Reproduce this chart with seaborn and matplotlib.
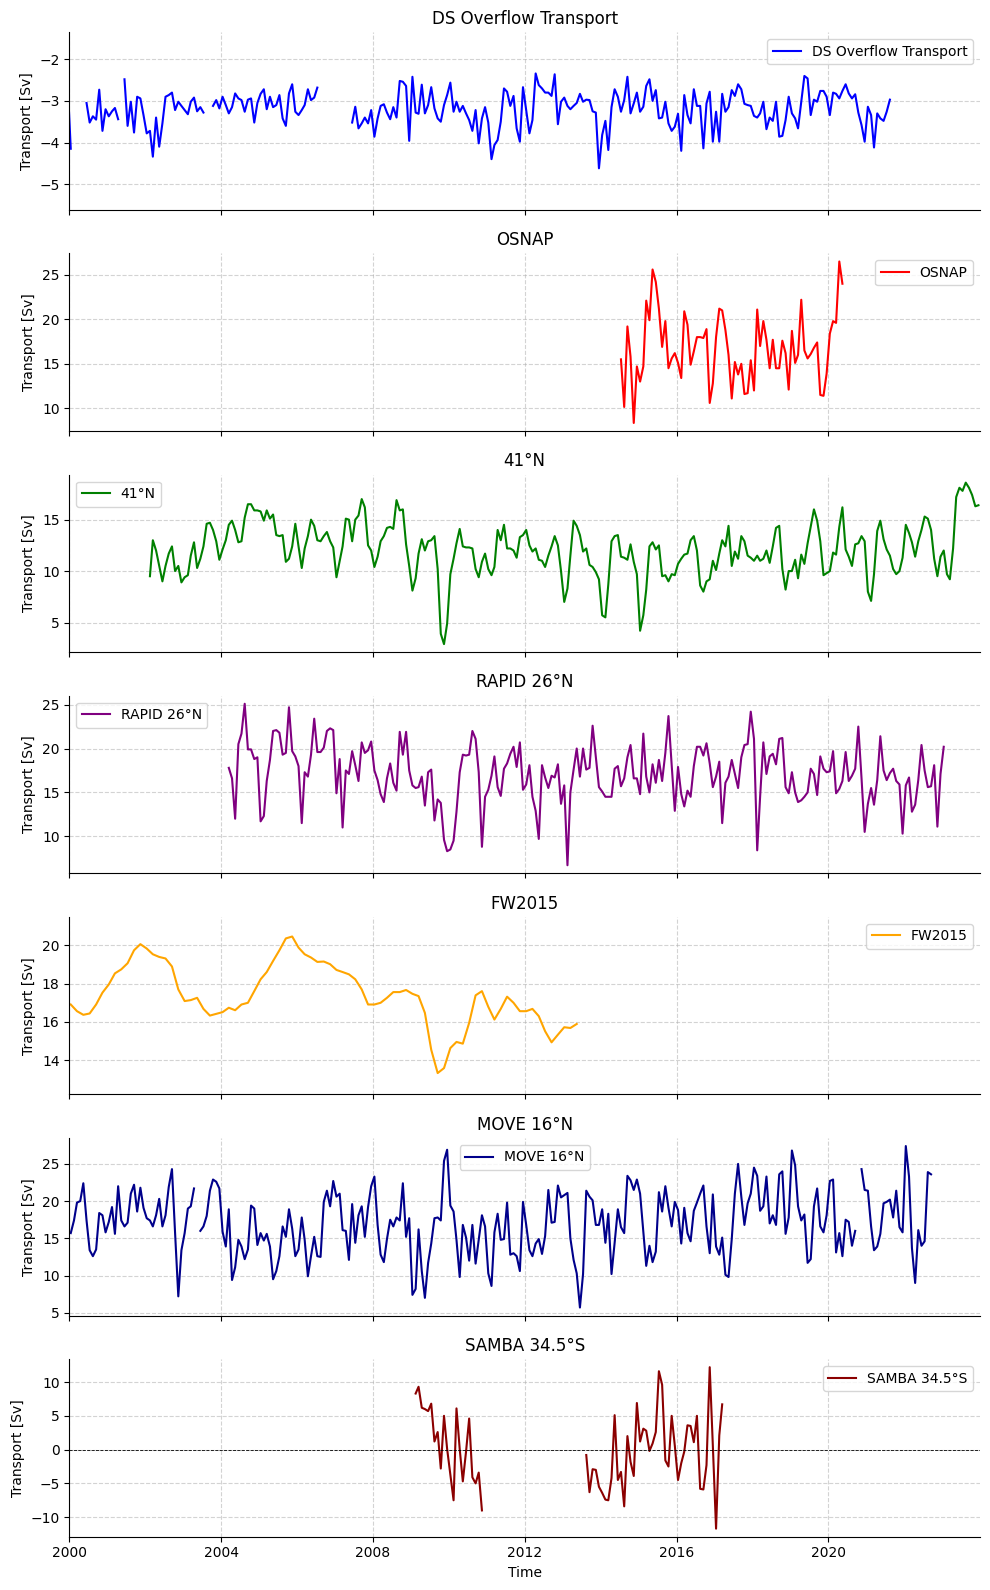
import pandas as pd
import matplotlib
matplotlib.use("Agg")
import matplotlib.pyplot as plt
import matplotlib.dates as mdates
import seaborn as sns

# each series is a list of continuous segments: (first month, monthly values)
ds_seg1 = [-2.5, -4.15]
ds_seg2 = [-3.05, -3.52, -3.37, -3.45, -2.73, -3.72, -3.2, -3.37, -3.25, -3.17, -3.44]
ds_seg3 = [-2.48, -3.6, -3.02, -3.76, -2.9, -2.94, -3.34, -3.78, -3.72, -4.34, -3.4, -4.1, -3.54,
           -2.9, -2.86, -2.8, -3.22, -3.02, -3.12, -3.22, -3.32, -3.02, -2.92, -3.25, -3.15, -3.28]
ds_seg4 = [-3.12, -2.98, -3.18, -2.9, -3.1, -3.3, -3.15, -2.82, -2.94, -2.98, -3.26, -2.97, -2.94,
           -3.52, -3.05, -2.83, -2.72, -3.2, -2.9, -3.15, -3.1, -2.86, -3.42, -3.6, -2.82, -2.6,
           -3.26, -3.34, -3.22, -3.1, -2.72, -2.98, -2.92, -2.68]
ds_seg5 = [-3.52, -3.14, -3.66, -3.54, -3.4, -3.54, -3.22, -3.86, -3.42, -3.12,
           -3.08, -3.28, -3.44, -3.15, -3.4, -2.52, -2.54, -2.64, -3.96, -2.42,
           -3.28, -3.31, -2.61, -3.3, -3.1, -2.67, -3.18, -3.42, -3.5, -3.1,
           -2.86, -2.56, -3.26, -3.02, -3.26, -3.12, -3.3, -3.46, -3.72, -3.22,
           -4.02, -3.42, -3.15, -3.52, -4.4, -4.06, -3.94,
           -3.5, -2.70, -2.78, -3.12, -2.88, -3.66, -3.98, -2.67, -3.22, -3.78,
           -3.46, -2.34, -2.62, -2.70, -2.8, -2.8, -2.88, -2.36, -3.56, -3.02,
           -2.92, -3.12, -3.2, -3.12, -3.05, -2.83, -3.02, -2.97, -2.98, -3.25,
           -3.28, -4.62, -3.82, -3.48, -4.18, -3.15, -2.72, -2.9, -3.26, -2.98,
           -2.42, -3.3, -3.06, -2.8, -3.26, -3.14, -2.64, -2.48, -3.0, -2.74,
           -3.42, -3.4, -3.02, -3.54, -3.72, -3.62, -3.31, -4.2, -2.86, -3.34,
           -3.54, -2.72, -3.12, -3.12, -4.14, -3.06, -2.78, -3.98, -3.26, -3.98,
           -2.83, -3.26, -3.15, -2.74, -2.88, -2.6, -2.72, -3.07, -3.1, -3.12,
           -3.36, -3.4, -3.3, -3.02, -3.68, -3.4, -3.48, -3.02, -3.86, -3.84,
           -3.46, -2.9, -3.3, -3.42, -3.66, -3.02, -2.4, -2.46, -3.34, -2.97,
           -3.02, -2.76, -2.76, -2.9, -3.34, -2.8, -2.83, -2.94, -2.76, -2.6,
           -2.82, -2.94, -2.84, -3.28, -3.58, -3.98, -3.14, -3.34, -4.12, -3.3,
           -3.42, -3.48, -3.26, -2.97]

osnap_vals = [15.5, 10.15, 19.2, 15.8, 8.35, 14.7, 13.0, 14.7, 22.1, 19.9,
              25.6, 24.2, 21.2, 16.9, 19.8, 14.5, 15.6, 16.2, 15.1, 13.4,
              20.9, 19.4, 14.9, 16.4, 18.0, 18.0, 17.9, 18.9, 10.6, 12.8,
              18.0, 21.2, 21.0, 18.8, 16.0, 11.1, 15.2, 13.8, 15.0, 11.6,
              11.7, 15.4, 12.0, 21.1, 17.0, 19.8, 17.7, 14.5, 17.7, 14.5,
              14.5, 17.6, 16.2, 12.1, 18.7, 15.1, 16.0, 22.2, 16.5, 15.6,
              16.1, 16.8, 17.4, 11.5, 11.4, 13.9, 18.4, 19.8, 19.6, 26.5, 24.0]

n41_vals = [9.5, 13.0, 12.0, 10.5, 9.0, 10.5, 11.7, 12.4, 10.0, 10.5,
            8.9, 9.4, 9.6, 11.5, 12.8, 10.3, 11.2, 12.4, 14.6, 14.7,
            14.0, 12.9, 11.1, 12.1, 13.0, 14.5, 14.9, 14.0, 12.8, 12.9,
            15.2, 16.5, 16.5, 15.9, 15.9, 15.8, 14.9, 15.9, 15.1, 15.5,
            13.5, 13.4, 13.5, 10.9, 11.2, 12.4, 14.6, 12.4, 10.3, 12.2,
            13.4, 15.0, 14.4, 13.0, 12.9, 13.4, 13.8, 12.9, 12.3, 9.4,
            11.0, 12.4, 15.1, 15.0, 12.9, 15.0, 15.4, 17.0, 16.2, 12.5,
            12.0, 10.4, 11.4, 12.9, 13.4, 14.2, 14.3, 14.1, 16.9, 15.9,
            16.0, 12.6, 10.5, 8.1, 9.3, 11.7, 13.1, 12.0, 12.9, 13.0,
            13.4, 10.2, 3.9, 2.9, 4.9, 9.7, 11.2, 12.7, 14.1, 12.4,
            12.3, 12.3, 12.2, 10.2, 9.4, 10.9, 11.7, 10.2, 9.6, 10.4,
            14.0,
            13.0, 14.5, 12.2, 12.2, 12.0, 11.3, 13.3, 13.5, 14.0, 12.5,
            11.9, 12.2, 11.1, 11.0, 10.4, 11.5, 12.4, 13.4, 12.5, 10.0,
            7.0, 8.3, 11.5, 14.9, 14.4, 13.5, 11.9, 12.2, 10.6, 10.4,
            9.9, 9.2, 5.7, 5.5, 8.7, 12.9, 13.4, 13.5, 11.4, 11.3,
            11.1, 12.6, 10.9, 9.7, 4.2, 5.7, 8.2, 12.4, 12.8, 12.1,
            12.5, 9.5, 9.6, 9.0, 9.7, 9.6, 10.7, 11.2, 11.6, 11.7,
            13.0, 13.4, 12.0, 8.6, 8.0, 9.0, 9.2, 11.0, 10.1, 11.7,
            13.0, 12.4, 14.4, 10.5, 11.9, 11.2, 13.4, 12.9, 11.5, 11.3,
            11.0, 11.5, 11.0, 11.2, 12.0, 10.8, 12.4, 14.2, 14.4, 10.2,
            8.2, 10.0, 10.0, 11.1, 9.3, 11.6, 10.7, 12.7, 14.3, 16.0,
            14.9, 12.9, 9.6, 9.8, 10.0, 11.8, 11.6, 14.3, 16.2, 12.1,
            11.4, 10.5, 12.6, 12.7, 13.4, 12.9, 8.0, 7.1, 9.7, 13.9,
            14.9, 13.1, 12.1, 11.5, 10.2, 9.7, 10.0, 11.3, 14.5, 13.7,
            12.8, 11.4, 12.9, 14.0, 15.3, 15.1, 14.0, 11.2, 9.5, 11.4,
            12.0, 9.7, 9.2, 12.2, 17.2, 18.1, 17.8, 18.6, 18.1, 17.4,
            16.3, 16.4]

rapid_vals = [17.8, 16.6, 12.0, 20.5, 21.7, 25.1, 19.9, 19.9, 18.8, 19.0,
              11.7, 12.3, 16.3, 18.7, 22.0, 22.1, 21.8, 19.3, 19.5, 24.7,
              19.7, 19.1, 18.0, 11.5, 17.3, 16.8, 19.3, 23.4, 19.6, 19.6,
              20.1, 22.0, 22.3, 22.1, 14.9, 18.8, 11.0, 17.5, 17.1, 19.7,
              18.1, 16.3, 20.7, 19.5, 19.8, 20.8, 17.5, 16.4, 14.8, 13.9,
              16.6, 18.3, 16.1, 15.2, 21.9, 19.3, 21.9, 17.5, 15.8, 15.5,
              15.6, 16.8, 13.5, 17.3, 17.6, 11.8, 14.2, 13.8, 9.6, 8.3,
              8.5, 9.5, 12.8, 17.3, 19.3, 19.2, 19.3, 22.0, 21.1, 17.3,
              8.8, 14.5, 15.3, 16.9, 19.1, 15.6, 14.6, 17.7, 18.3, 19.4,
              20.2, 17.9, 20.7, 15.3, 15.9, 18.1, 14.5, 12.9, 9.7, 18.1,
              16.7, 15.5, 16.9, 16.7, 18.2, 13.7, 15.8, 6.7, 15.0, 17.6,
              20.0, 16.8, 20.0, 17.6, 17.8, 22.6, 19.0, 15.6,
              15.1, 14.5, 14.5, 14.5, 17.7, 18.0, 15.7, 16.6, 19.0, 20.4,
              16.6, 16.6, 14.8, 21.7, 16.8, 15.0, 18.2, 16.1, 18.7, 16.3,
              19.5, 23.7, 18.1, 12.9, 17.9, 14.8, 13.4, 15.2, 14.5, 18.0,
              20.2, 20.2, 19.2, 20.6, 18.3, 15.6, 16.8, 18.5, 11.5, 16.1,
              16.8, 18.7, 17.1, 15.5, 19.0, 20.4, 20.5, 24.2, 21.1, 8.4,
              14.5, 20.7, 17.1, 19.1, 19.4, 18.2, 21.1, 21.2, 15.6, 14.9,
              17.3, 15.0, 13.9, 14.1, 14.5, 15.0, 17.7, 17.1, 14.7, 19.1,
              17.7, 17.3, 17.4, 19.7, 14.9, 15.4, 16.3, 19.6, 16.3, 16.9,
              17.7, 22.5, 16.6, 10.5, 13.7, 15.5, 13.6, 16.4, 21.4, 17.5,
              16.4, 17.2, 17.7, 16.3, 15.9, 10.3, 15.8, 16.7, 12.8, 13.6,
              16.4, 20.4, 17.5, 15.6, 15.7, 18.1, 11.1, 17.1, 20.2]

# FW2015 read every second month
fw_vals = [16.91, 16.56, 16.37, 16.44, 16.91, 17.53, 17.96, 18.54, 18.75, 19.07,
           19.75, 20.07, 19.84, 19.54, 19.40, 19.32, 18.9, 17.7, 17.09, 17.14,
           17.26, 16.68, 16.33, 16.42, 16.51, 16.74, 16.61, 16.91, 17.0, 17.61,
           18.23, 18.61, 19.19, 19.75, 20.37, 20.47, 19.89, 19.54, 19.37, 19.14,
           19.16, 19.02, 18.72, 18.61, 18.49, 18.23, 17.7, 16.91, 16.91, 17.0,
           17.26, 17.56, 17.56, 17.67, 17.47, 17.35, 16.47, 14.54, 13.32, 13.58,
           14.63, 14.95, 14.86, 15.95, 17.39, 17.61, 16.79, 16.12, 16.68, 17.32,
           17.0, 16.56, 16.56, 16.68, 16.3, 15.51, 14.93, 15.33, 15.72, 15.68,
           15.89]

move_seg1 = [15.7, 17.4, 19.8, 20.0, 22.4, 17.4, 13.4, 12.6, 13.5, 18.4,
             18.1, 15.8, 17.2, 19.2, 15.6, 22.0, 17.4, 16.6, 17.1, 21.0,
             22.2, 18.6, 21.8, 19.1, 17.7, 17.4, 16.6, 18.1, 20.3, 16.6,
             18.1, 21.9, 24.3, 15.7, 7.2, 13.4, 15.7, 19.0, 19.3, 21.7]
move_seg2 = [16.0, 16.6, 18.0, 21.4, 22.9, 22.6, 21.7, 15.9, 13.9, 18.9,
             9.4, 11.1, 14.8, 13.9, 12.2, 13.5, 19.4, 19.0, 14.1, 15.7,
             14.7, 15.6, 13.9, 9.5, 10.6, 12.6, 16.6, 15.2, 18.9, 16.3,
             12.6, 13.5, 17.8, 14.8, 9.9, 12.6, 15.2, 12.6, 12.5, 19.9,
             21.4, 19.3, 22.7, 20.6, 21.0, 16.1, 16.0, 12.1, 19.6, 14.4,
             18.1, 19.3, 15.2, 19.2, 22.0, 23.3, 16.8, 12.8, 11.8, 14.9,
             17.5, 16.6, 17.8, 17.4, 22.4, 15.2, 17.7, 7.4, 8.2, 16.2,
             10.6, 7.0, 11.7, 14.3, 17.7, 17.8, 17.4, 25.4, 26.9, 19.4,
             18.6, 14.8, 9.8, 16.8, 15.1, 12.0, 16.8, 11.6, 14.8, 18.1,
             16.6, 10.3, 8.6, 15.8, 18.3,
             14.8, 14.9, 19.8, 12.8, 13.0, 12.6, 10.6, 19.9, 16.8, 13.4,
             12.6, 14.3, 14.9, 12.9, 15.3, 21.5, 17.1, 17.2, 22.1, 20.5,
             20.8, 21.1, 15.0, 12.1, 10.3, 5.7, 10.2, 21.4, 20.6, 20.1,
             16.8, 16.8, 18.9, 14.4, 18.3, 10.2, 14.4, 18.9, 16.5, 15.7,
             23.4, 22.8, 21.5, 22.9, 21.0, 15.9, 11.3, 14.0, 11.8, 13.2,
             21.2, 18.6, 22.0, 19.1, 16.6, 19.9, 18.8, 14.3, 19.1, 15.7,
             14.6, 18.7, 19.8, 21.0, 22.1, 16.6, 13.0, 20.9, 13.9, 12.8,
             15.1, 10.1, 9.8, 14.9, 21.0, 25.0, 20.6, 16.8, 19.7, 21.0,
             24.5, 23.4, 18.7, 19.3, 23.3, 17.0, 18.1, 16.8, 23.6, 24.0,
             15.6, 17.8, 26.8, 24.8, 19.3, 17.4, 18.2, 11.7, 12.2, 19.3,
             21.7, 16.6, 15.8, 18.1, 22.7, 22.9, 13.1, 15.7, 12.6, 17.5,
             17.2, 14.0, 16.0]
move_seg3 = [24.3, 21.5, 21.4, 16.6, 13.4, 13.9, 15.6, 19.7, 19.9, 20.2, 17.8, 21.4,
             16.5, 15.8, 27.4, 23.3, 13.7, 9.0, 16.1, 14.0, 14.6, 23.9, 23.6]

samba_seg1 = [8.3, 9.3, 6.2, 6.0, 5.7, 6.8, 1.2, 2.6, -2.8, 5.0, 0.1,
              -3.7, -7.5, 6.1, 0.1, -4.7, -0.3, 4.6, -4.1, -5.0, -3.4, -9.0]
samba_seg2 = [-0.8, -6.3, -2.9, -3.0, -5.5, -6.4, -7.4, -7.5, -4.2, 5.1,
              -4.5, -3.3, -8.4, 2.0, -1.8, -3.9, 6.9, 1.2, 3.1, 2.8,
              -0.2, 0.9, 2.6, 11.6, 9.6, -1.6, -2.5, 5.0, 0.6, -4.5,
              -2.0, -0.3, 3.6, 3.5, 1.1, 5.0, -5.8, -5.9, -2.3, 12.2,
              0.6, -11.7, 2.1, 6.7]

series = [
    ("DS Overflow Transport", "blue", "upper right",
     [("1999-12", ds_seg1), ("2000-06", ds_seg2), ("2001-06", ds_seg3),
      ("2003-10", ds_seg4), ("2007-06", ds_seg5)], "MS"),
    ("OSNAP", "red", "upper right", [("2014-07", osnap_vals)], "MS"),
    ("41°N", "green", "upper left", [("2002-02", n41_vals)], "MS"),
    ("RAPID 26°N", "purple", "upper left", [("2004-03", rapid_vals)], "MS"),
    ("FW2015", "orange", "upper right", [("2000-01", fw_vals)], "2MS"),
    ("MOVE 16°N", "darkblue", "upper center",
     [("2000-01", move_seg1), ("2003-06", move_seg2), ("2020-11", move_seg3)], "MS"),
    ("SAMBA 34.5°S", "darkred", "upper right",
     [("2009-02", samba_seg1), ("2013-08", samba_seg2)], "MS"),
]

fixed_ylim = {"DS Overflow Transport": (-5.62, -1.35), "FW2015": (12.2, 21.5)}


def to_frame(segments, freq):
    frames = []
    for i, (start, vals) in enumerate(segments):
        t = pd.date_range(start, periods=len(vals), freq=freq) + pd.Timedelta(days=14)
        frames.append(pd.DataFrame({"Time": t, "Transport": vals, "seg": i}))
    return pd.concat(frames, ignore_index=True)


fig, axes = plt.subplots(7, 1, figsize=(9.9, 15.9), dpi=100, sharex=True)

for ax, (name, color, loc, segments, freq) in zip(axes, series):
    df = to_frame(segments, freq)
    sns.lineplot(data=df, x="Time", y="Transport", units="seg", estimator=None,
                 color=color, linewidth=1.5, ax=ax, legend=False,
                 solid_joinstyle="round")
    ax.legend([ax.lines[0]], [name], loc=loc)
    if name.startswith("SAMBA"):
        ax.axhline(0, color="black", linestyle="--", linewidth=0.6)
    if name in fixed_ylim:
        ax.set_ylim(*fixed_ylim[name])
    ax.set_title(name)
    ax.set_ylabel("Transport [Sv]")
    ax.set_xlabel("")
    ax.grid(True, linestyle="--", alpha=0.55)

sns.despine(fig=fig)
axes[-1].set_xlim(pd.Timestamp("2000-01-01"), pd.Timestamp("2023-12-31"))
axes[-1].xaxis.set_major_locator(mdates.YearLocator(4))
axes[-1].xaxis.set_major_formatter(mdates.DateFormatter("%Y"))
axes[-1].set_xlabel("Time")

fig.subplots_adjust(left=0.07, right=0.99, top=0.9797, bottom=0.0335, hspace=0.245)
fig.savefig("out.png", dpi=100)
